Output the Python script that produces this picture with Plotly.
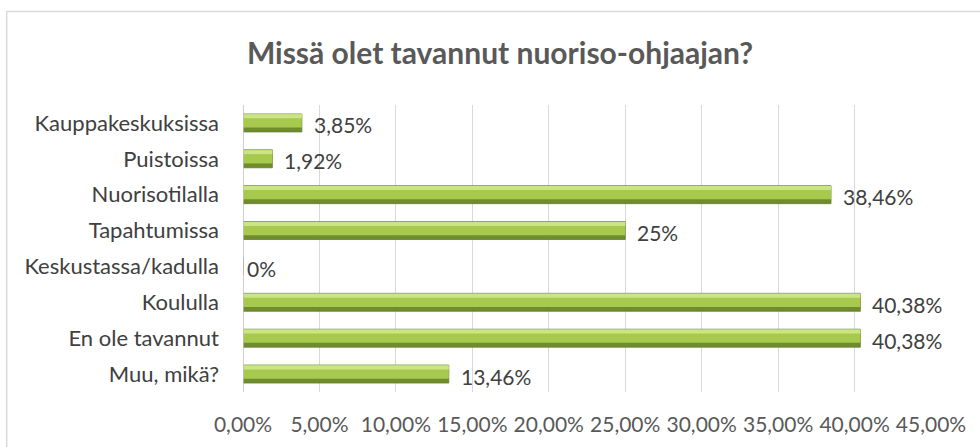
import plotly.graph_objects as go

categories = ["Kauppakeskuksissa", "Puistoissa", "Nuorisotilalla", "Tapahtumissa",
              "Keskustassa/kadulla", "Koululla", "En ole tavannut", "Muu, mikä?"]
values = [3.85, 1.92, 38.46, 25, 0, 40.38, 40.38, 13.46]
tick_vals = [0, 5, 10, 15, 20, 25, 30, 35, 40, 45]
tick_text = ["0,00%", "5,00%", "10,00%", "15,00%", "20,00%", "25,00%",
             "30,00%", "35,00%", "40,00%", "45,00%"]
title = "Missä olet tavannut nuoriso-ohjaajan?"

def fmt(v):
    return f"{v:g}".replace(".", ",") + "%"

labels = [fmt(v) for v in values]

FONT = "Lato, 'Open Sans', sans-serif"

fig = go.Figure()
# base (dark bevel edge)
fig.add_trace(go.Bar(y=categories, x=values, orientation="h", width=0.5, offset=-0.25,
                     marker=dict(color="#6f8d2c", line=dict(color="#62802a", width=0.8)),
                     hoverinfo="skip", showlegend=False))
# main face
fig.add_trace(go.Bar(y=categories, x=values, orientation="h", width=0.38, offset=-0.13,
                     marker=dict(color="#a6c94e", line=dict(width=0)),
                     hoverinfo="skip", showlegend=False))
# highlight
fig.add_trace(go.Bar(y=categories, x=values, orientation="h", width=0.11, offset=0.13,
                     marker=dict(color="#cbe484", line=dict(width=0)),
                     hoverinfo="skip", showlegend=False))

for c, v, t in zip(categories, values, labels):
    fig.add_annotation(x=v, y=c, text=t, showarrow=False, xanchor="left",
                       xshift=10 if v > 0 else 2, yshift=-2,
                       font=dict(family=FONT, size=21, color="#404040"))

W, H = 980, 447
L, R, T, B = 243, 48.5, 105, 55
pw, ph = W - L - R, H - T - B

def px2x(p):
    return (p - L) / pw

def px2y(p):
    return (H - B - p) / ph

fig.add_shape(type="rect", xref="paper", yref="paper",
              x0=px2x(6.5), x1=px2x(990), y0=px2y(460), y1=px2y(11.5),
              line=dict(color="#d9d9d9", width=1.5), fillcolor="rgba(0,0,0,0)", layer="below")

fig.update_layout(
    template="none",
    width=W, height=H,
    margin=dict(l=L, r=R, t=T, b=B, autoexpand=False),
    barmode="overlay",
    paper_bgcolor="white", plot_bgcolor="white",
    title=dict(text=f"<b>{title}</b>", x=500 / W, xref="container", xanchor="center",
               y=1 - 53 / H, yref="container", yanchor="middle",
               font=dict(family=FONT, size=30, color="#595959")),
    xaxis=dict(range=[0, 45], tickvals=tick_vals, ticktext=tick_text, automargin=False,
               showgrid=True, gridcolor="#d9d9d9", gridwidth=1, zeroline=False,
               showline=False, ticks="", ticklabelstandoff=18,
               tickfont=dict(family=FONT, size=21, color="#595959"), fixedrange=True),
    yaxis=dict(categoryorder="array", categoryarray=categories[::-1], automargin=False,
               showgrid=False, zeroline=False, showline=False, ticks="",
               ticklabelstandoff=23,
               tickfont=dict(family=FONT, size=22, color="#404040"), fixedrange=True),
    font=dict(family=FONT),
)
fig.add_shape(type="line", xref="x", yref="paper", x0=0, x1=0, y0=0, y1=1,
              line=dict(color="#bfbfbf", width=1.5))

fig.write_html("out.html", config={"displayModeBar": False},
               post_script="document.body.style.margin='0';")
